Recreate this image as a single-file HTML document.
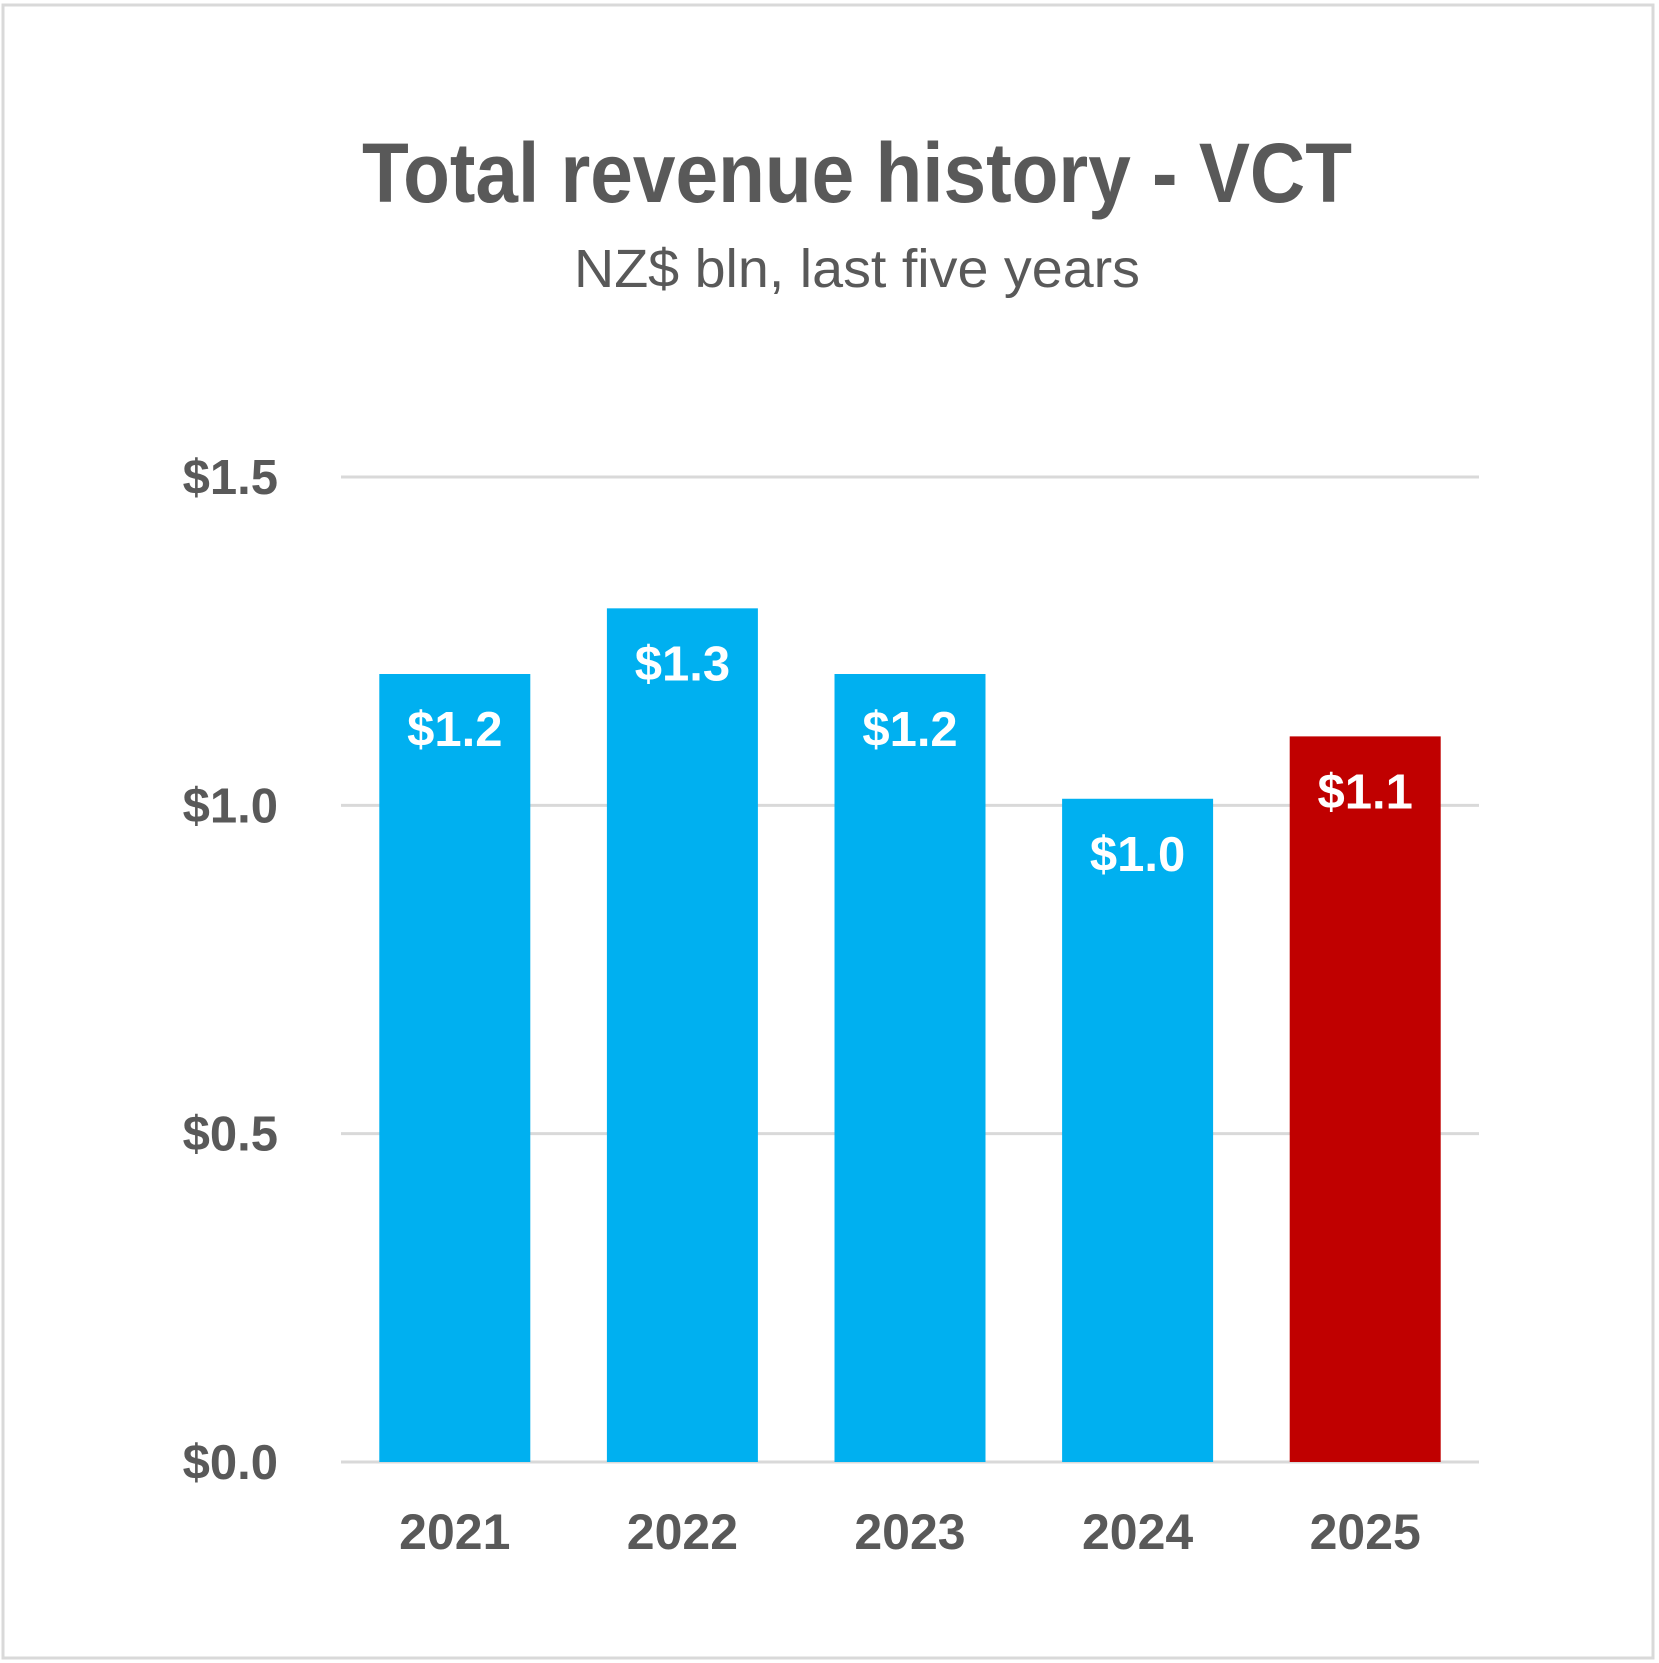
<!DOCTYPE html>
<html><head><meta charset="utf-8"><style>
html,body{margin:0;padding:0;background:#fff;}
svg{display:block;font-family:"Liberation Sans",sans-serif;}
</style></head><body>
<svg id="chart" width="1659" height="1663" viewBox="0 0 1659 1663" xmlns="http://www.w3.org/2000/svg">
<rect x="3" y="5" width="1650" height="1653" fill="#fff" stroke="#d9d9d9" stroke-width="3"/>
<text x="857" y="202" text-anchor="middle" font-size="84" font-weight="bold" fill="#595959" textLength="990" lengthAdjust="spacingAndGlyphs">Total revenue history - VCT</text>
<text x="857" y="287" text-anchor="middle" font-size="54" fill="#595959" textLength="566" lengthAdjust="spacingAndGlyphs">NZ$ bln, last five years</text>
<g id="grid"></g><g id="bars"></g><g id="labels"></g>
</svg>
<script>
const categories = ["2021","2022","2023","2024","2025"];
const values = [1.2, 1.3, 1.2, 1.01, 1.105];
const valueLabels = ["$1.2","$1.3","$1.2","$1.0","$1.1"];
const barColors = ["#00b0f0","#00b0f0","#00b0f0","#00b0f0","#c00000"];
const yTicks = [0, 0.5, 1.0, 1.5];
const yTickLabels = ["$0.0","$0.5","$1.0","$1.5"];

const NS = "http://www.w3.org/2000/svg";
const plotL = 341, plotR = 1479, y0 = 1462, yMaxPx = 477, yMax = 1.5;
const y = v => y0 - (v / yMax) * (y0 - yMaxPx);
const band = (plotR - plotL) / categories.length;
const barW = 151;
const xc = i => plotL + band * (i + 0.5);
function mk(tag, attrs, parent, text) {
  const e = document.createElementNS(NS, tag);
  for (const k in attrs) e.setAttribute(k, attrs[k]);
  if (text !== undefined) e.textContent = text;
  parent.appendChild(e);
  return e;
}
const grid = document.getElementById('grid');
const bars = document.getElementById('bars');
const labels = document.getElementById('labels');
yTicks.forEach((t, i) => {
  const l = mk('line', {x1: plotL, x2: plotR, y1: y(t), y2: y(t), stroke: '#d9d9d9', 'stroke-width': 3}, grid);
  
  
  const tx = mk('text', {x: 278, y: y(t) + 17, 'text-anchor': 'end', 'font-size': 49, 'font-weight': 'bold', fill: '#595959'}, labels, yTickLabels[i]);
  
  
});
categories.forEach((c, i) => {
  const r = mk('rect', {x: xc(i) - barW / 2, y: y(values[i]), width: barW, height: y0 - y(values[i]), fill: barColors[i]}, bars);
  
  
  const vl = mk('text', {x: xc(i), y: y(values[i]) + 72, 'text-anchor': 'middle', 'font-size': 49, 'font-weight': 'bold', fill: '#fff'}, labels, valueLabels[i]);
  
  
  const xl = mk('text', {x: xc(i), y: 1549, 'text-anchor': 'middle', 'font-size': 50, 'font-weight': 'bold', fill: '#595959'}, labels, c);
  
  
});
</script>
</body></html>
